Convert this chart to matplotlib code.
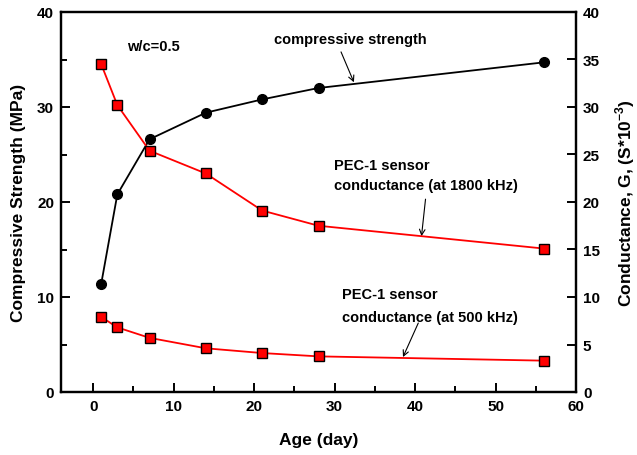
"""Compressive strength and PEC-1 sensor conductance versus age."""

import matplotlib
matplotlib.use("Agg")
import matplotlib.pyplot as plt
from matplotlib.ticker import MultipleLocator

plt.rcParams['font.family'] = ['Liberation Sans', 'DejaVu Sans']
plt.rcParams['font.weight'] = 'bold'
plt.rcParams['mathtext.fontset'] = 'custom'
plt.rcParams['mathtext.bf'] = 'Liberation Sans:bold'
plt.rcParams['mathtext.rm'] = 'Liberation Sans:bold'

# Data
age = [1, 3, 7, 14, 21, 28, 56]
strength = [11.4, 20.8, 26.6, 29.4, 30.8, 32.0, 34.7]
cond_1800 = [34.5, 30.2, 25.4, 23.0, 19.1, 17.5, 15.1]
cond_500 = [7.9, 6.8, 5.7, 4.6, 4.1, 3.75, 3.3]

fig = plt.figure(figsize=(6.37, 4.56), dpi=100)
ax = fig.add_axes([61 / 637, 1 - 393 / 456, (576 - 61) / 637, (393 - 13) / 456])
ax2 = ax.twinx()

ax.plot(age, strength, '-o', color='black', lw=1.3, ms=7, zorder=3)
ax2.plot(age, cond_1800, '-s', color='red', lw=1.3, ms=7.5,
         mfc='red', mec='black', mew=1.0)
ax2.plot(age, cond_500, '-s', color='red', lw=1.3, ms=7.5,
         mfc='red', mec='black', mew=1.0)

ax.set_xlim(-4, 60)
ax.set_ylim(0, 40)
ax2.set_ylim(0, 40)

ax.xaxis.set_major_locator(MultipleLocator(10))
ax.xaxis.set_minor_locator(MultipleLocator(5))
ax.yaxis.set_major_locator(MultipleLocator(10))
ax.yaxis.set_minor_locator(MultipleLocator(5))
ax2.yaxis.set_major_locator(MultipleLocator(5))

for a in (ax, ax2):
    for s in a.spines.values():
        s.set_linewidth(1.6)
    a.tick_params(which='major', direction='in', length=6.5, width=1.4,
                  labelsize=11, pad=5)
    a.tick_params(which='minor', direction='in', length=4, width=1.4)
ax.tick_params(axis='x', which='both', top=False)
ax.tick_params(axis='y', which='both', right=False)
ax2.tick_params(axis='y', which='both', left=False)

for lab in ax.get_xticklabels() + ax.get_yticklabels() + ax2.get_yticklabels():
    lab.set_fontweight('bold')

ax.set_xlabel('Age (day)', fontsize=12.5, fontweight='bold', labelpad=14)
ax.set_ylabel('Compressive Strength (MPa)', fontsize=12.5, fontweight='bold',
              labelpad=8)
ax2.set_ylabel('Conductance, G, (S*10$^{-3}$)', fontsize=12.5,
               fontweight='bold', labelpad=10)

# Annotations
ax.text(4.2, 36.4, 'w/c=0.5', fontsize=10.5, fontweight='bold', va='center')

arrow = dict(arrowstyle='->', color='black', lw=0.8, shrinkA=0, shrinkB=0)

ax.text(22.5, 37.2, 'compressive strength', fontsize=10.5,
        fontweight='bold', va='center')
ax.annotate('', xy=(32.4, 32.6), xytext=(30.8, 35.8), arrowprops=arrow)

ax.text(29.9, 23.9, 'PEC-1 sensor', fontsize=10.5, fontweight='bold',
        va='center')
ax.text(29.9, 21.8, 'conductance (at 1800 kHz)', fontsize=10.5,
        fontweight='bold', va='center')
ax.annotate('', xy=(40.8, 16.4), xytext=(41.3, 20.3), arrowprops=arrow)

ax.text(30.9, 10.3, 'PEC-1 sensor', fontsize=10.5, fontweight='bold',
        va='center')
ax.text(30.9, 7.9, 'conductance (at 500 kHz)', fontsize=10.5,
        fontweight='bold', va='center')
ax.annotate('', xy=(38.5, 3.68), xytext=(40.4, 7.26), arrowprops=arrow)

fig.savefig('out.png', dpi=100)
